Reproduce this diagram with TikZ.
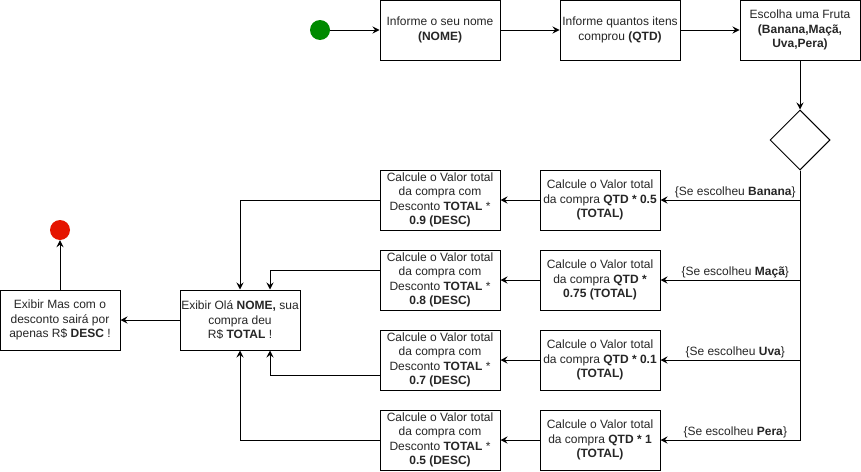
\documentclass[tikz,border=0pt]{standalone}
\usepackage{fontspec}
\setmainfont{Liberation Sans}
\usetikzlibrary{shapes.geometric,arrows.meta}
\begin{document}
\begin{tikzpicture}[x=1pt,y=-1pt,
  every node/.style={font=\fontsize{12}{14.4}\selectfont, text=black!85},
  box/.style={draw=black, line width=1pt, minimum width=120pt, minimum height=60pt, inner sep=0pt, align=center, fill=white},
  dot/.style={circle, minimum size=20pt, inner sep=0pt},
  arr/.style={line width=1pt, -{Stealth[length=7pt,width=7pt,inset=2.5pt]}},
  ln/.style={line width=1pt},
  lbl/.style={above, inner sep=2pt}
]
\useasboundingbox (0,0) rectangle (861,471);
% nodes
\node[dot, fill={rgb,255:red,0;green,138;blue,0}] (start) at (320,30) {};
\node[box] (b1) at (440,30) {Informe o seu nome\\\textbf{(NOME)}};
\node[box] (b2) at (620,30) {Informe quantos itens\\comprou \textbf{(QTD)}};
\node[box] (b3) at (800,30) {Escolha uma Fruta\\\textbf{(Banana,Maçã,}\\\textbf{Uva,Pera)}};
\node[diamond, draw=black, line width=1pt, minimum width=60pt, minimum height=60pt, inner sep=0pt] (dia) at (800,140) {};
\node[box] (c1) at (600,200) {Calcule o Valor total\\da compra \textbf{QTD * 0.5}\\\textbf{(TOTAL)}};
\node[box] (c2) at (600,280) {Calcule o Valor total\\da compra \textbf{QTD *}\\\textbf{0.75 (TOTAL)}};
\node[box] (c3) at (600,360) {Calcule o Valor total\\da compra \textbf{QTD * 0.1}\\\textbf{(TOTAL)}};
\node[box] (c4) at (600,440) {Calcule o Valor total\\da compra \textbf{QTD * 1}\\\textbf{(TOTAL)}};
\node[box] (d1) at (440,200) {Calcule o Valor total\\da compra com\\Desconto \textbf{TOTAL} *\\\textbf{0.9 (DESC)}};
\node[box] (d2) at (440,280) {Calcule o Valor total\\da compra com\\Desconto \textbf{TOTAL} *\\\textbf{0.8 (DESC)}};
\node[box] (d3) at (440,360) {Calcule o Valor total\\da compra com\\Desconto \textbf{TOTAL} *\\\textbf{0.7 (DESC)}};
\node[box] (d4) at (440,440) {Calcule o Valor total\\da compra com\\Desconto \textbf{TOTAL} *\\\textbf{0.5 (DESC)}};
\node[box] (ola) at (240,320) {Exibir Olá \textbf{NOME,} sua\\compra deu\\R\$ \textbf{TOTAL} !};
\node[box] (mas) at (60,320) {Exibir Mas com o\\desconto sairá por\\apenas R\$ \textbf{DESC} !};
\node[dot, fill={rgb,255:red,229;green,20;blue,0}] (end) at (60,230) {};
% connectors
\draw[arr] (start) -- (b1);
\draw[arr] (b1) -- (b2);
\draw[arr] (b2) -- (b3);
\draw[arr] (b3) -- (dia);
\draw[arr] (dia.south) |- (c1.east) node[lbl, pos=0.75, xshift=5pt] {\{Se escolheu \textbf{Banana}\}};
\draw[arr] (dia.south) |- (c2.east) node[lbl, pos=0.75, xshift=5pt] {\{Se escolheu \textbf{Maçã}\}};
\draw[arr] (dia.south) |- (c3.east) node[lbl, pos=0.75, xshift=5pt] {\{Se escolheu \textbf{Uva}\}};
\draw[arr] (dia.south) |- (c4.east) node[lbl, pos=0.75, xshift=5pt] {\{Se escolheu \textbf{Pera}\}};
\draw[arr] (c1) -- (d1);
\draw[arr] (c2) -- (d2);
\draw[arr] (c3) -- (d3);
\draw[arr] (c4) -- (d4);
\draw[arr] (d1.west) -| (ola.north);
\draw[arr] ([yshift=10pt]d2.west) -| ([xshift=30pt]ola.north);
\draw[arr] ([yshift=-15pt]d3.west) -| ([xshift=30pt]ola.south);
\draw[arr] (d4.west) -| (ola.south);
\draw[arr] (ola) -- (mas);
\draw[arr] (mas) -- (end);
\end{tikzpicture}
\end{document}
